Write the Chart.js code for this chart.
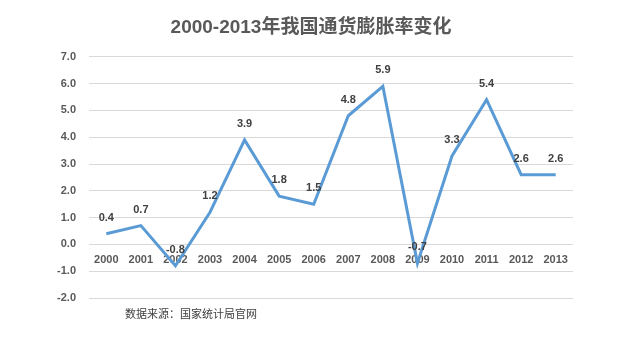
<!DOCTYPE html>
<html>
<head>
<meta charset="utf-8">
<script src="https://cdn.jsdelivr.net/npm/chart.js@4.4.1/dist/chart.umd.min.js"></script>
<style>
  body { margin: 0; background: #fff; }
  #wrap { position: relative; width: 622px; height: 342px; }
  #source {
    position: absolute; left: 125px; top: 305px;
    font: 11px "Noto Sans CJK SC", sans-serif; color: #404040;
  }
</style>
</head>
<body>
<div id="wrap">
  <canvas id="chart_1" width="622" height="342"></canvas>
  <div id="source">数据来源：国家统计局官网</div>
</div>
<script>
const years = ['2000', '2001', '2002', '2003', '2004', '2005', '2006',
               '2007', '2008', '2009', '2010', '2011', '2012', '2013'];
const inflation = [0.4, 0.7, -0.8, 1.2, 3.9, 1.8, 1.5, 4.8, 5.9, -0.7, 3.3, 5.4, 2.6, 2.6];
const yMin = -2;
const yMax = 7;

const fontFamily = '"Liberation Sans", "Noto Sans CJK SC", Arial, sans-serif';

// value labels above each point
const pointLabels = {
    id: 'pointLabels',
    afterDatasetsDraw(chart) {
        const ctx = chart.ctx;
        const meta = chart.getDatasetMeta(0);
        ctx.save();
        ctx.font = 'bold 11px ' + fontFamily;
        ctx.fillStyle = '#404040';
        ctx.textAlign = 'center';
        ctx.textBaseline = 'middle';
        meta.data.forEach((pt, i) => {
            ctx.fillText(inflation[i].toFixed(1), pt.x, pt.y - 16);
        });
        ctx.restore();
    }
};

const ctx1 = document.getElementById('chart_1').getContext('2d');
const myChart1 = new Chart(ctx1, {
    type: 'line',
    data: {
        labels: years,
        datasets: [{
            label: '通货膨胀率',
            data: inflation,
            borderColor: '#5B9BD5',
            borderWidth: 3,
            pointRadius: 0,
            tension: 0,
            fill: false
        }]
    },
    options: {
        responsive: false,
        animation: false,
        layout: { padding: { left: 29, right: 29, top: 0, bottom: 44 } },
        plugins: {
            legend: { display: false },
            tooltip: { enabled: false },
            title: {
                display: true,
                text: '2000-2013年我国通货膨胀率变化',
                color: '#595959',
                font: { family: fontFamily, size: 19, weight: 'bold' },
                padding: { top: 16, bottom: 18 }
            }
        },
        scales: {
            x: {
                position: { y: 0 },
                offset: true,
                grid: { display: false, drawTicks: false },
                border: { display: false },
                ticks: {
                    color: '#595959',
                    padding: 9,
                    maxRotation: 0,
                    autoSkip: false,
                    font: { family: fontFamily, size: 11, weight: 'bold' }
                }
            },
            y: {
                min: yMin,
                max: yMax,
                afterFit(scale) { scale.width = 60; },
                grid: { color: '#D9D9D9', drawTicks: false },
                border: { display: false },
                ticks: {
                    stepSize: 1,
                    padding: 13,
                    color: '#595959',
                    font: { family: fontFamily, size: 11, weight: 'bold' },
                    callback: v => v.toFixed(1)
                }
            },
            // empty spacer on the right so the title stays centred on the canvas
            yRight: {
                position: 'right',
                min: yMin,
                max: yMax,
                afterFit(scale) { scale.width = 20; },
                grid: { display: false },
                border: { display: false },
                ticks: { display: false }
            }
        }
    },
    plugins: [pointLabels]
});
</script>
</body>
</html>
